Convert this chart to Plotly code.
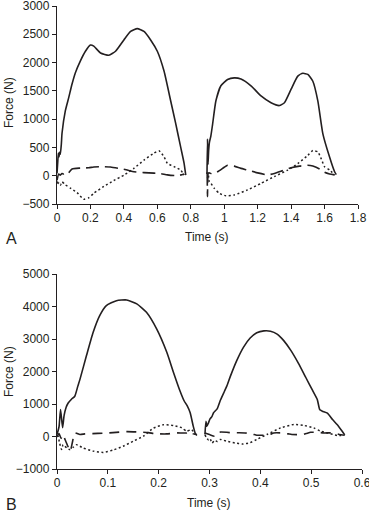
import plotly.graph_objects as go

# ---------------- Panel A data (time s, force N) ----------------
a_t_solid1 = [0.0, 0.004, 0.008, 0.012, 0.016, 0.02, 0.026, 0.03, 0.05, 0.07, 0.09, 0.11, 0.14, 0.17, 0.2, 0.22, 0.26, 0.31, 0.35, 0.4, 0.44, 0.48, 0.52, 0.56, 0.6, 0.64, 0.68, 0.71, 0.74, 0.76, 0.77]
a_solid1 = [40, 220, 400, 330, 420, 380, 560, 750, 1150, 1380, 1620, 1820, 2030, 2200, 2310, 2290, 2170, 2130, 2200, 2400, 2550, 2600, 2550, 2400, 2200, 1850, 1320, 920, 500, 220, 10]
a_t_solid2 = [0.897, 0.9, 0.903, 0.907, 0.912, 0.92, 0.93, 0.95, 0.98, 1.02, 1.06, 1.1, 1.16, 1.22, 1.28, 1.33, 1.36, 1.4, 1.44, 1.47, 1.5, 1.53, 1.56, 1.59, 1.63, 1.66, 1.67]
a_solid2 = [30, 650, 200, 450, 600, 700, 900, 1320, 1590, 1700, 1730, 1710, 1590, 1410, 1290, 1240, 1290, 1530, 1760, 1810, 1790, 1670, 1320, 740, 330, 70, 20]

a_t_dash1 = [0.0, 0.01, 0.02, 0.03, 0.04, 0.05, 0.06, 0.09, 0.14, 0.19, 0.22, 0.28, 0.32, 0.37, 0.42, 0.46, 0.52, 0.58, 0.62, 0.66, 0.72, 0.76]
a_dash1 = [-80, 30, 10, 40, 30, 40, 20, 120, 135, 140, 155, 160, 155, 130, 100, 70, 55, 45, 35, 15, 0, 30]
a_t_dash2 = [0.898, 0.9, 0.904, 0.91, 0.93, 0.96, 1.0, 1.02, 1.06, 1.1, 1.14, 1.2, 1.26, 1.3, 1.35, 1.4, 1.45, 1.5, 1.53, 1.57, 1.6, 1.63, 1.66]
a_dash2 = [60, -370, 40, 50, 30, 70, 150, 185, 170, 130, 100, 50, 15, 40, 90, 140, 170, 185, 170, 120, 60, 30, 15]

a_t_dot1 = [0.0, 0.005, 0.01, 0.02, 0.03, 0.05, 0.08, 0.12, 0.16, 0.19, 0.22, 0.28, 0.34, 0.4, 0.46, 0.52, 0.58, 0.61, 0.64, 0.66, 0.7, 0.74, 0.76]
a_dot1 = [-100, -160, -120, -170, -110, -160, -220, -300, -415, -390, -310, -190, -85, 10, 130, 275, 400, 440, 335, 220, 160, 100, 10]
a_t_dot2 = [0.9, 0.905, 0.91, 0.92, 0.94, 0.97, 1.01, 1.06, 1.14, 1.22, 1.3, 1.38, 1.44, 1.5, 1.53, 1.56, 1.58, 1.6, 1.63, 1.66]
a_dot2 = [-40, 20, -100, -130, -220, -310, -355, -340, -250, -135, -15, 100, 215, 360, 445, 420, 300, 160, 100, 15]

a_xticks = [0, 0.2, 0.4, 0.6, 0.8, 1.0, 1.2, 1.4, 1.6, 1.8]
a_xlabels = ["0", "0.2", "0.4", "0.6", "0.8", "1", "1.2", "1.4", "1.6", "1.8"]
a_yticks = [-500, 0, 500, 1000, 1500, 2000, 2500, 3000]
a_ylabels = ["\u2212500", "0", "500", "1000", "1500", "2000", "2500", "3000"]

# ---------------- Panel B data ----------------
b_t_solid1 = [0.0, 0.004, 0.007, 0.011, 0.014, 0.018, 0.022, 0.028, 0.035, 0.041, 0.045, 0.058, 0.071, 0.084, 0.097, 0.117, 0.137, 0.157, 0.176, 0.196, 0.216, 0.229, 0.242, 0.25, 0.256, 0.262, 0.268, 0.272, 0.275]
b_solid1 = [60, 300, 830, 270, 650, 900, 1030, 1140, 1240, 1550, 1750, 2490, 3200, 3720, 4030, 4180, 4200, 4080, 3820, 3310, 2590, 1980, 1400, 1100, 950, 730, 320, 100, 30]
b_t_solid2 = [0.291, 0.293, 0.295, 0.298, 0.301, 0.305, 0.308, 0.315, 0.321, 0.328, 0.334, 0.341, 0.354, 0.367, 0.38, 0.393, 0.407, 0.42, 0.433, 0.446, 0.46, 0.475, 0.49, 0.502, 0.512, 0.517, 0.522, 0.532, 0.542, 0.551, 0.561, 0.566]
b_solid2 = [60, 470, 320, 420, 540, 620, 730, 850, 1100, 1340, 1550, 1850, 2350, 2750, 3030, 3190, 3250, 3240, 3150, 2950, 2650, 2250, 1800, 1440, 1140, 820, 780, 720, 520, 370, 160, 50]

b_t_dash1 = [0.0, 0.004, 0.008, 0.012, 0.016, 0.02, 0.026, 0.03, 0.035, 0.045, 0.055, 0.07, 0.09, 0.11, 0.137, 0.16, 0.18, 0.193, 0.216, 0.236, 0.255, 0.262, 0.268, 0.275]
b_dash1 = [0, 90, -60, 60, -100, -250, -450, -200, 110, 60, 80, 90, 100, 120, 150, 140, 120, 85, 80, 110, 110, 170, 80, 60]
b_t_dash2 = [0.291, 0.3, 0.31, 0.318, 0.334, 0.345, 0.354, 0.37, 0.385, 0.393, 0.41, 0.42, 0.426, 0.443, 0.455, 0.462, 0.482, 0.49, 0.499, 0.512, 0.525, 0.545, 0.555, 0.566]
b_dash2 = [110, 60, 10, 130, 130, 110, 115, 110, 70, 40, 40, 70, 110, 110, 80, 60, 60, 90, 130, 130, 110, 110, 60, 40]

b_t_dot1 = [0.0, 0.002, 0.005, 0.009, 0.012, 0.019, 0.025, 0.032, 0.038, 0.051, 0.071, 0.091, 0.11, 0.13, 0.15, 0.17, 0.19, 0.209, 0.229, 0.245, 0.255, 0.265, 0.272]
b_dot1 = [0, 10, -195, -400, -250, -350, -400, -330, -250, -350, -450, -490, -420, -300, -145, 10, 260, 360, 340, 270, 165, 210, 60]
b_t_dot2 = [0.291, 0.295, 0.298, 0.301, 0.305, 0.31, 0.315, 0.321, 0.334, 0.35, 0.365, 0.38, 0.393, 0.413, 0.44, 0.466, 0.486, 0.505, 0.518, 0.532, 0.551, 0.564]
b_dot2 = [50, -60, -100, -60, -200, -120, -150, -90, -145, -200, -230, -190, -90, 60, 265, 370, 340, 265, 165, 110, 30, 30]

b_xticks = [0, 0.1, 0.2, 0.3, 0.4, 0.5, 0.6]
b_xlabels = ["0", "0.1", "0.2", "0.3", "0.4", "0.5", "0.6"]
b_yticks = [-1000, 0, 1000, 2000, 3000, 4000, 5000]
b_ylabels = ["\u22121000", "0", "1000", "2000", "3000", "4000", "5000"]

INK = "#231f20"
FONT = "Liberation Sans, Arial, Helvetica, sans-serif"
W, H = 369, 513

fig = go.Figure()


def add(t, v, xa, ya, dash, width=1.6, smooth=0.5):
    fig.add_trace(go.Scatter(
        x=t, y=v, mode="lines", xaxis=xa, yaxis=ya, showlegend=False,
        line=dict(color=INK, width=width, dash=dash, shape="spline", smoothing=smooth),
        hoverinfo="skip"))


# Panel A
add(a_t_solid1, a_solid1, "x", "y", "solid")
add(a_t_solid2, a_solid2, "x", "y", "solid")
add(a_t_dash1, a_dash1, "x", "y", "13px,6px")
add(a_t_dash2, a_dash2, "x", "y", "13px,6px")
add(a_t_dot1, a_dot1, "x", "y", "2px,2.5px", 1.5)
add(a_t_dot2, a_dot2, "x", "y", "2px,2.5px", 1.5)
# Panel B
add(b_t_solid1, b_solid1, "x2", "y2", "solid")
add(b_t_solid2, b_solid2, "x2", "y2", "solid")
add(b_t_dash1, b_dash1, "x2", "y2", "10px,7px")
add(b_t_dash2, b_dash2, "x2", "y2", "10px,7px")
add(b_t_dot1, b_dot1, "x2", "y2", "2px,2.5px", 1.5)
add(b_t_dot2, b_dot2, "x2", "y2", "2px,2.5px", 1.5)

axis_common = dict(showline=True, linecolor=INK, linewidth=1.3, ticks="outside",
                   ticklen=4, tickwidth=1.2, tickcolor=INK, showgrid=False,
                   zeroline=False, tickfont=dict(family=FONT, size=12, color=INK),
                   automargin=False, fixedrange=True, ticklabeloverflow="allow")

fig.update_layout(
    width=W, height=H, margin=dict(l=0, r=0, t=0, b=0),
    paper_bgcolor="white", plot_bgcolor="white",
    font=dict(family=FONT, color=INK),
    xaxis=dict(domain=[57 / W, 358 / W], anchor="y", range=[0, 1.8],
               tickmode="array", tickvals=a_xticks, ticktext=a_xlabels,
               ticklabelstandoff=-2, **axis_common),
    yaxis=dict(domain=[1 - 204 / H, 1 - 6 / H], anchor="x", range=[-500, 3000],
               tickmode="array", tickvals=a_yticks, ticktext=a_ylabels, **axis_common),
    xaxis2=dict(domain=[57 / W, 362 / W], anchor="y2", range=[0, 0.6],
                tickmode="array", tickvals=b_xticks, ticktext=b_xlabels,
                ticklabelstandoff=-2, **axis_common),
    yaxis2=dict(domain=[1 - 469 / H, 1 - 274 / H], anchor="x2", range=[-1000, 5000],
                tickmode="array", tickvals=b_yticks, ticktext=b_ylabels, **axis_common),
)


def note(text, px, py, size=12, angle=0, xanchor="center"):
    fig.add_annotation(text=text, x=px / W, y=1 - py / H, xref="paper", yref="paper",
                       showarrow=False, textangle=angle, xanchor=xanchor, yanchor="middle",
                       font=dict(family=FONT, size=size, color=INK))


note("Force (N)", 9, 103, 12, -90)
note("Time (s)", 207, 237, 12)
note("A", 4, 238, 16, xanchor="left")
note("Force (N)", 9, 372, 12, -90)
note("Time (s)", 209, 503, 12)
note("B", 4, 504, 16, xanchor="left")

fig.write_html("out.html", config={"displayModeBar": False},
               post_script="document.body.style.margin='0';document.body.style.overflow='hidden';")
